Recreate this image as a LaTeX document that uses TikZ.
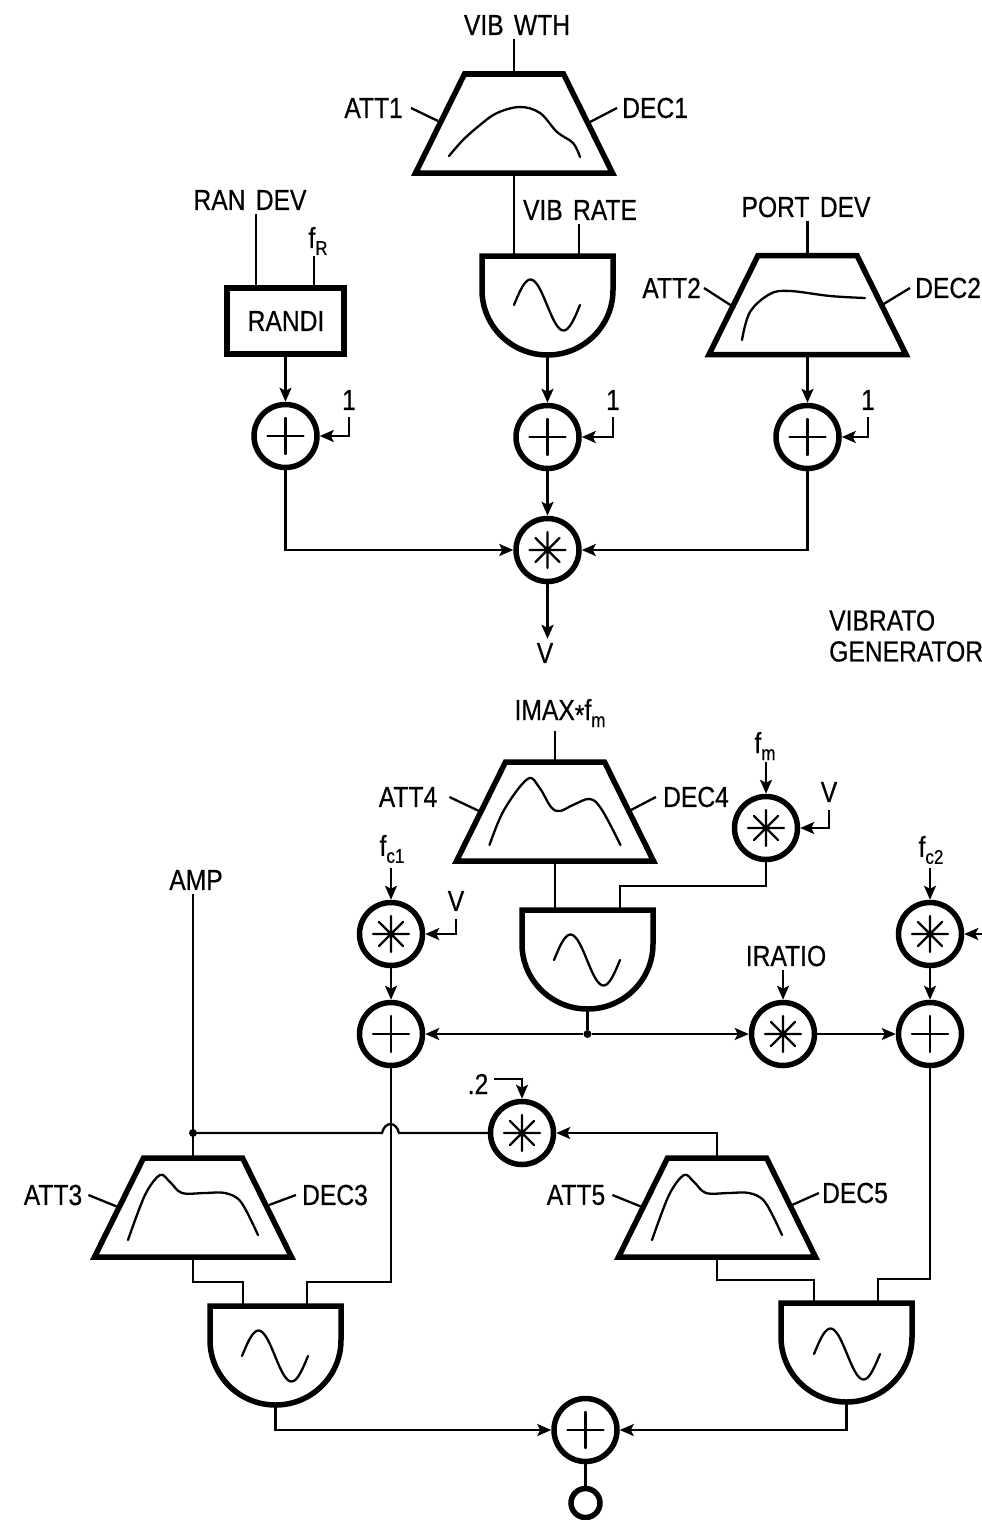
\documentclass[tikz,border=0pt]{standalone}
\usepackage{fontspec}
\setmainfont[FakeStretch=0.85,FakeBold=0.5,WordSpace=1.5]{Liberation Sans}
\usetikzlibrary{arrows.meta,calc}
\newcommand\subt[1]{\raisebox{-7pt}{\fontsize{20}{20}\selectfont #1}}
\tikzset{
  x=1pt,y=-1pt,
  shp/.style={line width=5.5pt,line join=miter,draw=black},
  conn/.style={line width=2.3pt,draw=black},
  arr/.style={conn,-{Stealth[length=14pt,width=12pt,inset=3pt]}},
  fine/.style={line width=2.3pt,draw=black,line cap=round,line join=round},
  lab/.style={inner sep=4pt,font=\fontsize{29}{29}\selectfont,text=black},
  envbox/.style={rectangle,minimum width=197pt,minimum height=99pt,inner sep=0pt,outer sep=0pt},
  oscbox/.style={rectangle,minimum width=131pt,minimum height=99pt,inner sep=0pt,outer sep=0pt},
  randbox/.style={rectangle,draw=black,line width=5.5pt,minimum width=117pt,minimum height=66pt,inner sep=0pt,outer sep=0pt},
  opc/.style={circle,draw=black,line width=5.5pt,minimum size=63pt,inner sep=0pt},
  opplus/.style={opc,path picture={\draw[fine] (path picture bounding box.center) ++(-18,0) -- ++(36,0) (path picture bounding box.center) ++(0,-18) -- ++(0,36);}},
  opstar/.style={opc,path picture={\draw[fine] (path picture bounding box.center) ++(-18,0) -- ++(36,0) (path picture bounding box.center) ++(0,-18) -- ++(0,36) (path picture bounding box.center) ++(-12,-12) -- ++(24,24) (path picture bounding box.center) ++(-12,12) -- ++(24,-24);}},
  dotn/.style={circle,fill=black,minimum size=8pt,inner sep=0pt},
  outc/.style={circle,draw=black,line width=5.5pt,minimum size=29pt,inner sep=0pt},
}
\newcommand\envn[3]{%
  \node[envbox] (#1) at (#2,#3) {};
  \draw[shp] (#1.south west) -- (#1.south east) -- ($(#1.north)+(49.5,0)$) -- ($(#1.north)+(-49.5,0)$) -- cycle;
}
\newcommand\oscn[3]{%
  \node[oscbox] (#1) at (#2,#3+49.5) {};
  \draw[shp] (#1.north west) -- (#1.north east) -- ++(0,34)
    .. controls +(0,36) and +(36,0) .. (#1.south)
    .. controls +(-36,0) and +(0,36) .. ($(#1.north west)+(0,34)$) -- cycle;
}
\newcommand\sinew[2]{\draw[fine] plot[smooth,domain=0:360,samples=37] ({#1+(\x/360)*66},{#2-25.5*sin(\x)});}
\begin{document}
\begin{tikzpicture}
\useasboundingbox (0,0) rectangle (982,1520);
% ---------- vibrato generator
\envn{trap1}{514}{123.5}
\draw[fine] plot[smooth,tension=0.6] coordinates {(449,156) (463,140) (480,125) (497,113) (520,107) (540,113) (557,132) (573,143) (580,157)};
\node[lab] (vibwth) at (517,25) {VIB WTH};
\draw[conn] (vibwth.south -| trap1.north) -- (trap1.north);
\node[lab,anchor=east,inner sep=0pt] (att1) at (403,108) {ATT1};
\node[lab,anchor=west,inner sep=0pt] (dec1) at (622,108) {DEC1};
\coordinate (att1p) at (438,121); \coordinate (dec1p) at (590,122);
\draw[conn] ([xshift=8pt]att1.east) -- (att1p);
\draw[conn] ([xshift=-5pt]dec1.west) -- (dec1p);

\oscn{osc1}{547.5}{256}
\sinew{514}{305}
\draw[conn] (trap1.south) -- (trap1.south |- osc1.north);
\node[lab] (vibrate) at (580,210) {VIB RATE};
\coordinate (pvr) at (579,256);
\draw[conn] (vibrate.south -| pvr) -- (pvr);

\node[randbox] (randi) at (285.5,321) {};
\node[lab] (randit) at (286,321) {RANDI};
\node[lab] (randev) at (250,200) {RAN DEV};
\coordinate (pran) at (256,288); \coordinate (pfr) at (314,288);
\draw[conn] (randev.south -| pran) -- (pran);
\node[lab,inner sep=0pt] (fr) at (318,241) {f\subt{R}};
\draw[conn] (314,256) -- (pfr);

\envn{trap2}{807.5}{305}
\draw[fine] plot[smooth,tension=0.6] coordinates {(742,340) (750,312) (770,294) (790,291) (830,296) (865,298)};
\node[lab] (portdev) at (806,207) {PORT DEV};
\draw[conn] (portdev.south -| trap2.north) -- (trap2.north);
\node[lab,anchor=east,inner sep=0pt] (att2) at (701,288) {ATT2};
\node[lab,anchor=west,inner sep=0pt] (dec2) at (915,288) {DEC2};
\coordinate (att2p) at (735,308); \coordinate (dec2p) at (882,305);
\draw[conn] ([xshift=3pt]att2.east) -- (att2p);
\draw[conn] ([xshift=-5pt]dec2.west) -- (dec2p);

\node[opplus] (adda) at (285.5,436) {};
\node[opplus] (addb) at (547.5,437) {};
\node[opplus] (addc) at (807.5,437) {};
\node[opstar] (mul) at (547.5,550) {};
\draw[arr] (randi.south) -- (adda.north);
\draw[arr] (osc1.south) -- (addb.north);
\draw[arr] (trap2.south) -- (addc.north);
\node[lab,inner sep=0pt] (onea) at (349,400) {1};
\node[lab,inner sep=0pt] (oneb) at (613,400) {1};
\node[lab,inner sep=0pt] (onec) at (868,400) {1};
\draw[arr] ([yshift=-7pt]onea.south) |- (adda.east);
\draw[arr] ([yshift=-7pt]oneb.south) |- (addb.east);
\draw[arr] ([yshift=-7pt]onec.south) |- (addc.east);
\draw[arr] (addb.south) -- (mul.north);
\draw[arr] (adda.south) |- (mul.west);
\draw[arr] (addc.south) |- (mul.east);
\node[lab] (vout) at (545,653) {V};
\draw[arr] (mul.south) -- (vout.north -| mul.south);
\node[lab,anchor=north west,inner sep=0pt,align=left] (vibgen) at (829,610) {VIBRATO\\[2pt]GENERATOR};

% ---------- FM section
\envn{trap4}{555}{811.5}
\draw[fine] plot[smooth,tension=0.6] coordinates {(489.5,845) (504,810) (527.5,779) (539,787) (551,807) (560,811) (573,805) (590,799) (602,810) (620.5,845)};
\node[lab] (imax) at (560,713) {IMAX\raisebox{-5pt}{*}f\subt{m}};
\draw[conn] (555,731) -- (trap4.north);
\node[lab,anchor=center,inner sep=0pt] (att4) at (408,797) {ATT4};
\node[lab,anchor=center,inner sep=0pt] (dec4) at (696,797) {DEC4};
\coordinate (att4p) at (479,811); \coordinate (dec4p) at (631,810);
\draw[conn] ([xshift=12pt]att4.east) -- (att4p);
\draw[conn] ([xshift=-7pt]dec4.west) -- (dec4p);

\oscn{osc4}{587.5}{910}
\sinew{554}{960}
\draw[conn] (trap4.south) -- (trap4.south |- osc4.north);

\node[opstar] (starm) at (766,828) {};
\node[lab,inner sep=0pt] (fm) at (765,746) {f\subt{m}};
\draw[arr] (766,762) -- (starm.north);
\node[lab,inner sep=0pt] (vm) at (829,792) {V};
\draw[arr] ([yshift=-8pt]vm.south) |- (starm.east);
\coordinate (pm) at (620,910);
\draw[conn] (starm.south) -- ++(0,24) -| (pm);

\node[opstar] (starc1) at (391,934) {};
\node[opplus] (addc1) at (391,1034) {};
\node[lab,inner sep=0pt] (fc1) at (392,849) {f\subt{c1}};
\draw[arr] (391,868) -- (starc1.north);
\node[lab,inner sep=0pt] (vc1) at (456,901) {V};
\draw[arr] ([yshift=-8pt]vc1.south) |- (starc1.east);
\draw[arr] (starc1.south) -- (addc1.north);

\node[opstar] (starc2) at (930,934) {};
\node[opplus] (addc2) at (930,1034) {};
\node[lab,inner sep=0pt] (fc2) at (931,850) {f\subt{c2}};
\draw[arr] (930,868) -- (starc2.north);
\coordinate (edge) at (982,934);
\draw[arr] (edge) -- (starc2.east);
\draw[arr] (starc2.south) -- (addc2.north);

\node[opstar] (stri) at (783,1034) {};
\node[lab] (iratio) at (786,956) {IRATIO};
\draw[arr] (iratio.south -| stri.north) -- (stri.north);
\draw[arr] (stri.east) -- (addc2.west);
\node[dotn] (j1) at (587.5,1034) {};
\draw[conn] (osc4.south) -- (j1);
\draw[arr] (j1) -- (addc1.east);
\draw[arr] (j1) -- (stri.west);

% ---------- carriers
\node[lab] (amp) at (196,880) {AMP};
\envn{trap3}{193}{1207.5}
\draw[fine] plot[smooth,tension=0.55] coordinates {(128,1240) (145,1195) (160,1175) (170,1182) (182,1193) (205,1193) (225,1193) (241,1202) (258,1235)};
\draw[conn] (amp.south -| trap3.north) -- (trap3.north);
\node[dotn] (j2) at (193,1133) {};
\node[lab,inner sep=0pt] (att3) at (53,1195) {ATT3};
\node[lab,inner sep=0pt] (dec3) at (335,1195) {DEC3};
\coordinate (att3p) at (118,1207); \coordinate (dec3p) at (269,1205);
\draw[conn] ([xshift=6pt]att3.east) -- (att3p);
\draw[conn] ([xshift=-6pt]dec3.west) -- (dec3p);

\envn{trap5}{717}{1207.5}
\draw[fine] plot[smooth,tension=0.55] coordinates {(652,1240) (669,1195) (684,1175) (694,1182) (706,1193) (729,1193) (749,1193) (765,1202) (782,1235)};
\node[lab,inner sep=0pt] (att5) at (576,1195) {ATT5};
\node[lab,inner sep=0pt] (dec5) at (855,1193) {DEC5};
\coordinate (att5p) at (642,1207); \coordinate (dec5p) at (792,1205);
\draw[conn] ([xshift=7pt]att5.east) -- (att5p);
\draw[conn] ([xshift=-3pt]dec5.west) -- (dec5p);

\node[opstar] (star3) at (522,1133) {};
\node[lab,inner sep=0pt] (two) at (478,1084) {.2};
\draw[arr] ([yshift=5pt,xshift=6pt]two.east) -| (star3.north);
\draw[arr] (trap5.north) |- (star3.east);
\coordinate (h1) at (382,1133); \coordinate (h2) at (399,1133);
\draw[conn] (j2) -- (h1) .. controls +(3,-12) and +(-3,-12) .. (h2) -- (star3.west);

\oscn{osc3}{275.5}{1306}
\sinew{242}{1356}
\oscn{osc5}{846.5}{1303}
\sinew{814}{1354}
\coordinate (p3a) at (243,1306); \coordinate (p3b) at (307,1306);
\coordinate (p5a) at (814,1303); \coordinate (p5b) at (878,1303);
\draw[conn] (trap3.south) -- ++(0,25) -| (p3a);
\draw[conn] (trap5.south) -- ++(0,23) -| (p5a);
\coordinate (b3) at (391,1282); \coordinate (b5) at (930,1279);
\draw[conn] (addc1.south) -- (b3) -| (p3b);
\draw[conn] (addc2.south) -- (b5) -| (p5b);

\node[opplus] (addo) at (585.5,1430) {};
\draw[arr] (osc3.south) |- (addo.west);
\draw[arr] (osc5.south) |- (addo.east);
\node[outc] (outn) at (585.5,1503) {};
\draw[conn] (addo.south) -- (outn.north);
\end{tikzpicture}
\end{document}
